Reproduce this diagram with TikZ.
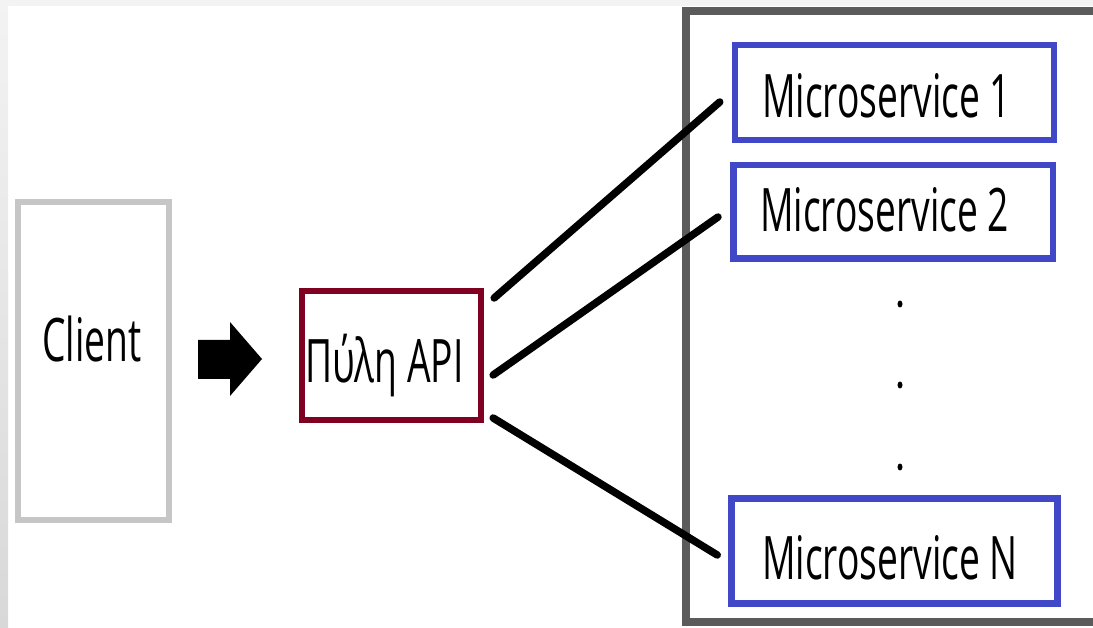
\documentclass[tikz,border=0pt]{standalone}
\usepackage{fontspec}
\newfontfamily\condfont[FakeStretch=0.62]{Open Sans}
\definecolor{msblue}{HTML}{4148C8}
\definecolor{apired}{HTML}{7F0020}
\definecolor{clgray}{HTML}{C6C6C6}
\definecolor{outergray}{HTML}{5B5B5B}
\definecolor{bgtop}{HTML}{F3F3F3}
\definecolor{bgleft}{HTML}{D8D8D8}
\usetikzlibrary{shapes.geometric,calc}
\tikzset{
  boxbase/.style={draw, rectangle, inner sep=0pt, fill=white},
  msbox/.style={boxbase, draw=msblue, line width=6.5pt},
  lbl/.style={font=\condfont\fontsize{60}{60}\selectfont, inner sep=0pt, anchor=base west, text=black},
  link/.style={line width=7.5pt, line cap=round, black},
  dotmark/.style={fill=black, ellipse, inner sep=0pt, minimum width=5pt, minimum height=7pt},
}
\begin{document}
\begin{tikzpicture}[x=1pt,y=-1pt]
\useasboundingbox (0,0) rectangle (1093,628);
% background frame
\fill[white] (0,0) rectangle (1093,628);
\fill[bgtop] (0,0) rectangle (1093,6);
\shade[top color=bgtop, bottom color=bgleft] (0,0) rectangle (8,628);
% outer container
\draw[outergray, line width=8pt] (1110,11.5) -- (685.5,11.5) -- (685.5,621.5) -- (1110,621.5);
% client
\node[boxbase, draw=clgray, line width=6pt, minimum width=151pt, minimum height=318pt] (client) at (93.5,361) {};
\node[lbl] (clientt) at (42,362) {Client};
% arrow
\fill[black] (198,340) -- (230,340) -- (230,322) -- (262,359) -- (230,396) -- (230,379) -- (198,379) -- cycle;
% API gateway
\node[boxbase, draw=apired, line width=6.3pt, minimum width=179pt, minimum height=129pt] (api) at (391.5,355.5) {};
\node[lbl] (apit) at (305,383) {Πύλη API};
% microservices
\node[msbox, minimum width=319pt, minimum height=95pt] (ms1) at (894.5,92.5) {};
\node[lbl] (ms1t) at (762,118) {Microservice 1};
\node[msbox, minimum width=319.5pt, minimum height=93.5pt] (ms2) at (893,212) {};
\node[lbl] (ms2t) at (760,232) {Microservice 2};
\node[msbox, minimum width=326pt, minimum height=105pt] (msn) at (894.5,551) {};
\node[lbl] (msnt) at (762,579) {Microservice N};
% dots
\node[dotmark] (d1) at (900,304) {};
\node[dotmark] (d2) at (900,385) {};
\node[dotmark] (d3) at (900,467) {};
% connectors
\coordinate (s1) at ($(api.east)+(10,-57.5)$);
\coordinate (s2) at ($(api.east)+(9,19.5)$);
\coordinate (s3) at ($(api.east)+(9,62.5)$);
\coordinate (e1) at ($(ms1.west)+(-12,9.5)$);
\coordinate (e2) at ($(ms2.west)+(-12,5)$);
\coordinate (e3) at ($(msn.west)+(-11,4)$);
\draw[link] (s1) -- (e1);
\draw[link] (s2) -- (e2);
\draw[link] (s3) -- (e3);
\end{tikzpicture}
\end{document}
